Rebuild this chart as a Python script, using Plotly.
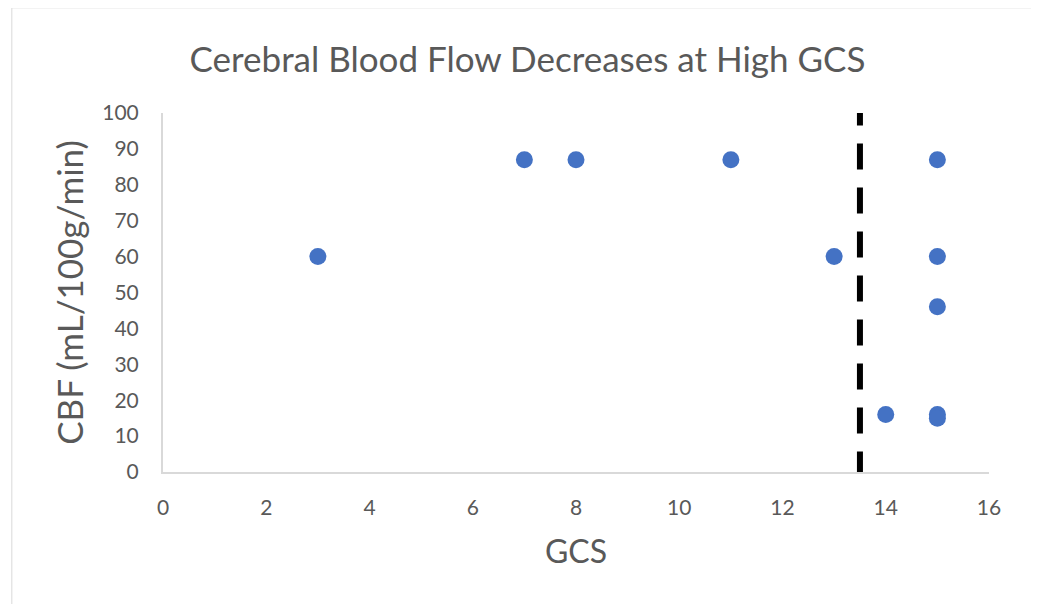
import plotly.graph_objects as go

# GCS score vs cerebral blood flow
gcs = [3, 7, 8, 11, 13, 15, 15, 15, 14, 15, 15]
cbf = [60, 87, 87, 87, 60, 87, 60, 46, 16, 16, 15]

GCS_CUTOFF = 13.5
x_ticks = [0, 2, 4, 6, 8, 10, 12, 14, 16]
y_ticks = [0, 10, 20, 30, 40, 50, 60, 70, 80, 90, 100]

FONT = "Lato"
GREY = "#595959"

fig = go.Figure()

fig.add_trace(go.Scatter(
    x=gcs, y=cbf,
    mode="markers",
    marker=dict(size=17, color="#4472C4"),
    showlegend=False,
))

# dashed cutoff line
fig.add_shape(
    type="line", xref="x", yref="y",
    x0=GCS_CUTOFF, x1=GCS_CUTOFF, y0=-1.5, y1=100,
    line=dict(color="black", width=6, dash="26px,18px"),
)

# outer chart border
fig.add_shape(
    type="rect", xref="paper", yref="paper",
    x0=-0.183, x1=1.052, y0=-0.5, y1=1.293,
    line=dict(color="#d9d9d9", width=1),
    layer="below",
)

fig.update_layout(
    title=dict(text="Cerebral Blood Flow Decreases at High GCS",
               x=0.5, xanchor="center", y=0.915, yanchor="middle",
               font=dict(family=FONT, size=35, color=GREY)),
    xaxis=dict(
        title=dict(text="GCS", font=dict(family=FONT, size=32, color=GREY),
                   standoff=22),
        range=[0, 16], tickvals=x_ticks,
        showgrid=False, zeroline=False,
        showline=True, linecolor="#d9d9d9", linewidth=2,
        tickfont=dict(family=FONT, size=21, color=GREY),
        ticks="outside", ticklen=16, tickcolor="rgba(0,0,0,0)",
    ),
    yaxis=dict(
        title=dict(text="CBF (mL/100g/min)", font=dict(family=FONT, size=35, color=GREY),
                   standoff=8),
        range=[0, 100], tickvals=y_ticks,
        showgrid=False, zeroline=False,
        showline=True, linecolor="#d9d9d9", linewidth=2,
        tickfont=dict(family=FONT, size=21, color=GREY),
        ticks="outside", ticklen=18, tickcolor="rgba(0,0,0,0)",
    ),
    plot_bgcolor="white",
    paper_bgcolor="white",
    margin=dict(l=155, r=58, t=105, b=140),
    width=1039, height=604,
)

fig.write_html("out.html")
